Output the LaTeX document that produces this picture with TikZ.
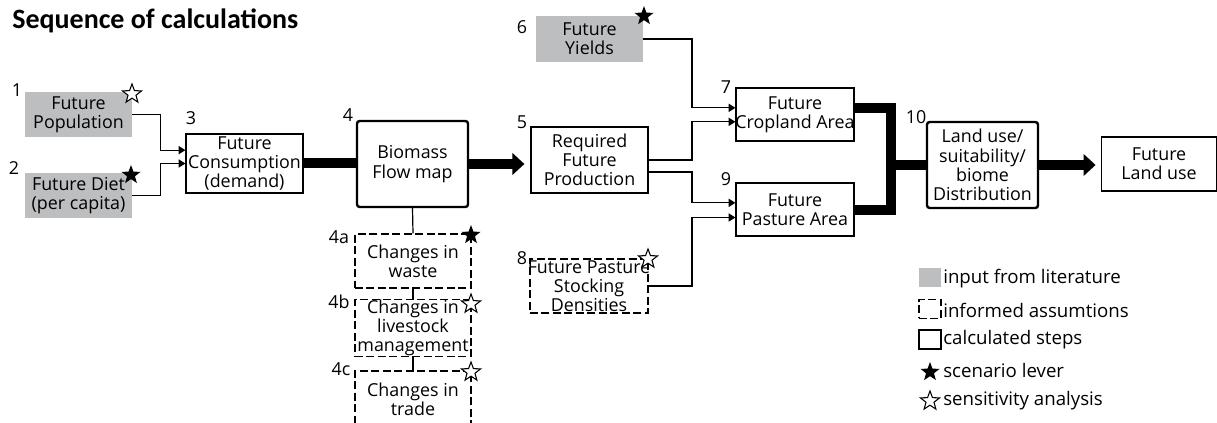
\documentclass[tikz,border=0pt]{standalone}
\usepackage{fontspec}
\setmainfont{Open Sans}
\newfontfamily\headfont{Carlito}
\usetikzlibrary{arrows.meta,shapes.geometric,calc}
\definecolor{litgray}{RGB}{188,190,192}
\tikzset{
  wh/.style 2 args={minimum width=#1*0.75pt, minimum height=#2*0.75pt},
  lever/.style={star, star points=5, star point ratio=2.4, fill=black, minimum size=15pt, inner sep=0pt},
  sens/.style={star, star points=5, star point ratio=2.4, draw, fill=white, line width=0.8pt, minimum size=15pt, inner sep=0pt},
  keytext/.style={anchor=west, inner sep=0pt, font=\fontsize{14pt}{16pt}\selectfont}
}
\begin{document}
\begin{tikzpicture}[x=0.75pt, y=-0.75pt, font=\fontsize{13.4pt}{14.4pt}\selectfont,
  calcbox/.style={draw, line width=0.9pt, align=center, inner sep=0pt},
  litbox/.style={fill=litgray, align=center, inner sep=0pt},
  assumbox/.style={calcbox, dash pattern=on 6pt off 2.6pt},
  mainbox/.style={calcbox, line width=1.8pt, rounded corners=2pt},
  num/.style={inner sep=0pt},
  tie/.style={line width=0.9pt},
  link/.style={line width=0.9pt, -{Triangle[length=5pt,width=6pt]}},
  flow/.style={line width=7.5pt, line join=miter},
  bigarr/.style={flow, -{Triangle[length=9pt,width=16pt]}}]
\useasboundingbox (0,0) rectangle (1217,423);
\node[anchor=base west, inner sep=0pt, font={\headfont\bfseries\fontsize{21pt}{24pt}\selectfont}] (title) at (12,29) {Sequence of calculations};
\node[litbox, wh={107}{45}] (pop) at (78.5,114.5) {Future\\Population};
\node[litbox, wh={107}{45}] (diet) at (78.5,195.5) {Future Diet\\(per capita)};
\node[calcbox, wh={117}{59}] (cons) at (244.5,163.5) {Future\\Consumption\\(demand)};
\node[mainbox, wh={111}{86}] (bio) at (412.5,164) {Biomass\\Flow map};
\node[assumbox, wh={116}{54}] (waste) at (413,261) {Changes in\\waste};
\node[assumbox, wh={116}{54}] (live) at (413,328) {Changes in\\livestock\\management};
\node[assumbox, wh={116}{56}] (trade) at (413,399) {Changes in\\trade};
\node[calcbox, wh={117}{66}] (req) at (589.5,160) {Required\\Future\\Production};
\node[litbox, wh={107}{46}] (yield) at (589.5,39) {Future\\Yields};
\node[assumbox, wh={118}{54}] (stock) at (589,286) {\makebox[80pt]{Future Pasture}\\Stocking\\Densities};
\node[calcbox, wh={118}{53}] (crop) at (795,114.5) {Future\\\makebox[80pt]{Cropland Area}};
\node[calcbox, wh={118}{53}] (past) at (795,209.5) {Future\\Pasture Area};
\node[mainbox, wh={111}{86}] (dist) at (982.5,165) {Land use/\\suitability/\\biome\\Distribution};
\node[calcbox, wh={115}{54}] (land) at (1159,164) {Future\\Land use};
\node[num] (n1) at (17,90) {1};
\node[num] (n2) at (14,168) {2};
\node[num] (n3) at (191,118) {3};
\node[num] (n4) at (348,115) {4};
\node[num] (n4a) at (339,237) {4a};
\node[num] (n4b) at (339,302) {4b};
\node[num] (n4c) at (341,369) {4c};
\node[num] (n5) at (522,122) {5};
\node[num] (n6) at (522,27) {6};
\node[num] (n7) at (726,87) {7};
\node[num] (n8) at (522,258) {8};
\node[num] (n9) at (726,179) {9};
\node[num] (n10) at (916,117) {10};
\draw[link] (pop.east) -- ++(28,0) |- ([yshift=10pt]cons.west);
\draw[link] (diet.east) -- ++(28,0) |- (cons.west);
\draw[flow] (cons.east) -- (cons.east -| bio.west);
\draw[bigarr] (bio.east) -- ([xshift=-4.5pt]bio.east -| req.west);
\draw[tie] (bio.south) -- (waste.north);
\draw[tie] (waste.south) -- (live.north);
\draw[tie] (live.south) -- (trade.north);
\draw[link] (yield.east) -- (692,39) |- ([yshift=5pt]crop.west);
\draw[link] (req.east) -- (692,160) |- ([yshift=-5.5pt]crop.west);
\draw[link] ([yshift=-9pt]req.east) -- (692,172) |- ([yshift=5pt]past.west);
\draw[link] (stock.east) -- (692,286) |- ([yshift=-6pt]past.west);
\coordinate (jn) at (891,165);
\draw[flow] ([yshift=4.5pt]crop.east) -| (jn) |- ([yshift=-0.75pt]past.east);
\draw[flow] (jn) -- (jn -| dist.west);
\draw[bigarr] (dist.east) -- ([xshift=-4pt]dist.east -| land.west);
\node[sens] (s1) at (132,94) {};
\node[lever] (s2) at (131,175) {};
\node[lever] (s6) at (644,16) {};
\node[sens] (s8) at (648,259) {};
\node[lever] (s4a) at (471,235) {};
\node[sens] (s4b) at (471,304) {};
\node[sens] (s4c) at (471,372) {};
\node[litbox, wh={22}{19}] (k1) at (930,277.5) {};
\node[assumbox, wh={22}{19}] (k2) at (930,309) {};
\node[calcbox, wh={22}{19}] (k3) at (930,339.5) {};
\node[lever] (k4) at (930,372) {};
\node[sens] (k5) at (930,401) {};
\node[keytext] (t1) at (943,279) {input from literature};
\node[keytext] (t2) at (943,310) {informed assumtions};
\node[keytext] (t3) at (943,340) {calculated steps};
\node[keytext] (t4) at (943,371) {scenario lever};
\node[keytext] (t5) at (943,401) {sensitivity analysis};
\end{tikzpicture}
\end{document}
